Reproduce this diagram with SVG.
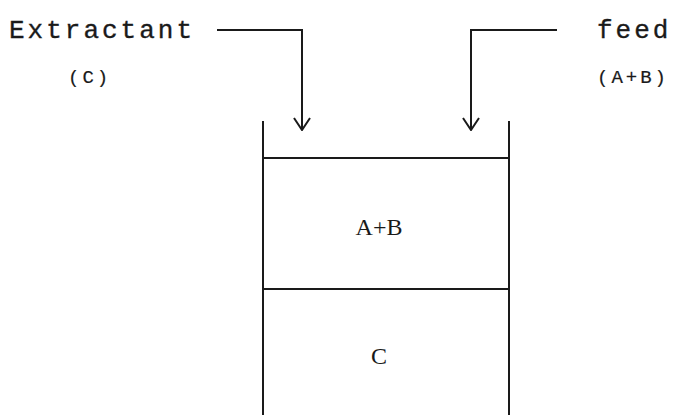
<svg xmlns="http://www.w3.org/2000/svg" width="687" height="415" viewBox="0 0 687 415">
  <style>
    .ln { fill: none; stroke: #1a1a1a; stroke-width: 2; }
    .big { font-family: "Liberation Mono", "DejaVu Sans Mono", monospace; font-size: 26px; fill: #1a1a1a; stroke: #1a1a1a; stroke-width: 0.35; letter-spacing: 3px; }
    .small { font-family: "Liberation Mono", "DejaVu Sans Mono", monospace; font-size: 19px; fill: #1a1a1a; stroke: #1a1a1a; stroke-width: 0.2; letter-spacing: 3px; }
    .lbl { font-family: "Liberation Serif", "DejaVu Serif", serif; font-size: 24px; fill: #1a1a1a; text-anchor: middle; }
  </style>
  <defs>
    <marker id="arrow" viewBox="0 0 14 18" refX="13" refY="9" markerWidth="14" markerHeight="18" markerUnits="userSpaceOnUse" orient="auto">
      <path d="M1,1 L13,9 L1,17" fill="none" stroke="#1a1a1a" stroke-width="2"/>
    </marker>
  </defs>

  <!-- extraction vessel -->
  <g id="vessel">
    <line class="ln" x1="263" y1="121" x2="263" y2="415"/>
    <line class="ln" x1="509" y1="121" x2="509" y2="415"/>
    <line class="ln" x1="263" y1="158" x2="509" y2="158"/>
    <line class="ln" x1="263" y1="289" x2="509" y2="289"/>
  </g>

  <g id="phase-feed">
    <text class="lbl" x="379" y="235">A+B</text>
  </g>
  <g id="phase-extractant">
    <text class="lbl" x="379" y="364">C</text>
  </g>

  <g id="extractant">
    <text class="big" x="9" y="38">Extractant</text>
    <text class="small" x="68" y="83">(C)</text>
  </g>

  <g id="feed">
    <text class="big" x="597" y="38">feed</text>
    <text class="small" x="597" y="83">(A+B)</text>
  </g>

  <!-- inlet streams -->
  <g id="connectors">
    <polyline class="ln" points="217,30 302,30 302,130" marker-end="url(#arrow)"/>
    <polyline class="ln" points="557,30 471,30 471,130" marker-end="url(#arrow)"/>
  </g>
</svg>
